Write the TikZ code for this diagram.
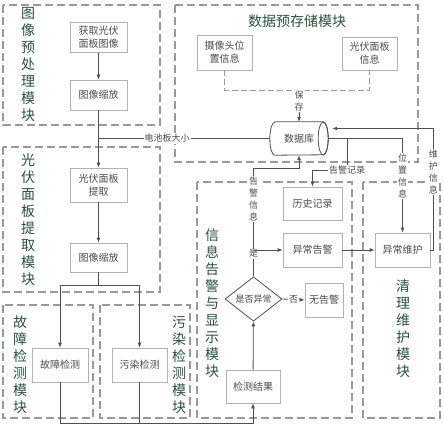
\documentclass[tikz,border=0pt]{standalone}
\usepackage{fontspec}
\setmainfont{Noto Sans CJK SC}
\usepackage{tikz}
\usetikzlibrary{positioning,arrows.meta,shapes.geometric,calc}
\definecolor{modgreen}{RGB}{40,82,58}
\definecolor{boxgray}{RGB}{178,178,178}
\definecolor{txtgray}{RGB}{75,75,75}
\definecolor{linegray}{RGB}{80,80,80}
\tikzset{
  flowarrow/.style={-{Latex[length=5pt,width=4pt]}, draw=linegray, line width=0.8pt},
  flowline/.style={draw=linegray, line width=0.8pt},
  procbox/.style={draw=boxgray, line width=0.8pt, fill=white, text=txtgray, minimum width=57pt, minimum height=32pt, align=center, font=\fontsize{10}{13}\selectfont, inner sep=1pt},
  modframe/.style={draw=gray!80, line width=1.1pt, dash pattern=on 8pt off 4pt},
  modtitle/.style={text=modgreen, align=center, font=\fontsize{14}{17}\selectfont},
  relabel/.style={fill=white, text=txtgray, inner sep=1pt, align=center, font=\fontsize{9}{12}\selectfont}
}
\begin{document}
\begin{tikzpicture}[x=1pt, y=-1pt, >=Latex]
  \useasboundingbox (0,0) rectangle (444,428);
  \draw[modframe] (3,5) rectangle (160,125);
  \draw[modframe] (175,5) rectangle (418,162);
  \draw[modframe] (3,147) rectangle (160,292);
  \draw[modframe] (3,305) rectangle (93,418);
  \draw[modframe] (100,305) rectangle (190,418);
  \draw[modframe] (197,182) rectangle (352,418);
  \draw[modframe] (363,182) rectangle (440,418);

  \node[modtitle] (tpre) at (28,65) {图\\像\\预\\处\\理\\模\\块};
  \node[modtitle] (tsto) at (297,21) {数据预存储模块};
  \node[modtitle] (text) at (28,220) {光\\伏\\面\\板\\提\\取\\模\\块};
  \node[modtitle] (tflt) at (20,365) {故\\障\\检\\测\\模\\块};
  \node[modtitle] (tdrt) at (179,365) {污\\染\\检\\测\\模\\块};
  \node[modtitle] (tinf) at (212,303) {信\\息\\告\\警\\与\\显\\示\\模\\块};
  \node[modtitle] (tcln) at (403,329) {清\\理\\维\\护\\模\\块};

  \node[procbox, minimum height=30pt] (hq) at (98.5,37.5) {获取光伏\\面板图像};
  \node[procbox, minimum height=30pt] (zf1) at (98.5,95) {图像缩放};
  \node[procbox, minimum height=34pt] (tq) at (98.5,185) {光伏面板\\提取};
  \node[procbox, minimum height=29pt] (zf2) at (98.5,257.5) {图像缩放};
  \node[procbox, minimum width=56pt, minimum height=34pt] (gz) at (60,365) {故障检测};
  \node[procbox, minimum width=55pt, minimum height=34pt] (wr) at (139.5,365) {污染检测};
  \node[procbox, minimum width=55pt, minimum height=35pt] (cam) at (224.5,52.5) {摄像头位\\置信息};
  \node[procbox, minimum width=55pt, minimum height=33pt] (pv) at (369.5,53.5) {光伏面板\\信息};
  \node[minimum width=58pt, minimum height=33pt, inner sep=0pt] (db) at (299,138.5) {};
  \draw[flowline, fill=white] ($(db.north west)+(5,0)$) -- ($(db.north east)+(-5,0)$)
    arc[start angle=-90, end angle=90, x radius=5, y radius=16.5] -- ($(db.south west)+(5,0)$)
    arc[start angle=90, end angle=270, x radius=5, y radius=16.5] -- cycle;
  \draw[flowline] ($(db.east)+(-5,0)$) ellipse[x radius=5, y radius=16.5];
  \node[text=txtgray, font=\fontsize{10}{13}\selectfont] (dbtxt) at (db.center) {数据库};
  \node[procbox, minimum width=59pt, minimum height=33pt] (hist) at (312.5,203.5) {历史记录};
  \node[procbox, minimum width=59pt, minimum height=34pt] (yc) at (312.5,250) {异常告警};
  \node[diamond, draw=linegray, line width=0.8pt, fill=white, text=txtgray, minimum width=57pt, minimum height=36pt, inner sep=0pt, font=\fontsize{9}{12}\selectfont] (dia) at (253.5,299) {是否异常};
  \node[procbox, minimum width=38pt, minimum height=34pt] (wgj) at (324,300) {无告警};
  \node[procbox, minimum width=54pt, minimum height=33pt] (jg) at (253,386.5) {检测结果};
  \node[procbox, minimum width=55pt, minimum height=34pt] (mnt) at (402.5,250) {异常维护};

  \draw[flowarrow] (hq) -- (zf1);
  \draw[flowarrow] (zf1) -- (tq);
  \draw[flowline] (zf1.south |- db.west) -- node[relabel, pos=0.4] {电池板大小} (db.west);
  \draw[flowarrow] (tq) -- (zf2);
  \draw[flowarrow] (zf2.south) -- ++(0,13) -| (gz.north);
  \draw[flowarrow] (zf2.south) -- ++(0,13) -| (wr.north);
  \draw[flowarrow] (gz.south) -- ++(0,41) -| (jg.south);
  \draw[flowline] (wr.south) -- ++(0,41);
  \draw[flowarrow] (jg) -- (dia);
  \draw[flowarrow] (dia.east) -- node[relabel] {否} (wgj.west);
  \draw[flowarrow] (dia.north) -- node[relabel, pos=0.21] {是} node[relabel, pos=0.72] {告\\警\\信\\息} ++(0,-108) -| (db.south);
  \draw[flowarrow] (dia.north |- yc.west) -- (yc.west);
  \draw[flowarrow] (yc) -- (mnt);

  \draw[flowline, draw=gray!80, dash pattern=on 6pt off 3pt] (cam.south) -- ++(0,20) -| (pv.south);
  \node[relabel] (bc) at (299,101) {保\\存};
  \draw[flowarrow] (bc) -- (db.north);
  \draw[flowarrow] (db.east) -| node[relabel, pos=0.7] {位\\置\\信\\息} (mnt.north);
  \node[relabel] (gjjl) at (347,170) {告警记录};
  \draw[flowline] (gjjl.north) -- (gjjl.north |- db.east);
  \draw[flowarrow] (gjjl.west) -| (hist.north);
  \coordinate (dbin) at ($(db.east)+(4,-10)$);
  \draw[flowarrow] (mnt.east) -- ++(3,0) |- node[relabel, pos=0.32] {维\\护\\信\\息} (dbin);
\end{tikzpicture}
\end{document}
